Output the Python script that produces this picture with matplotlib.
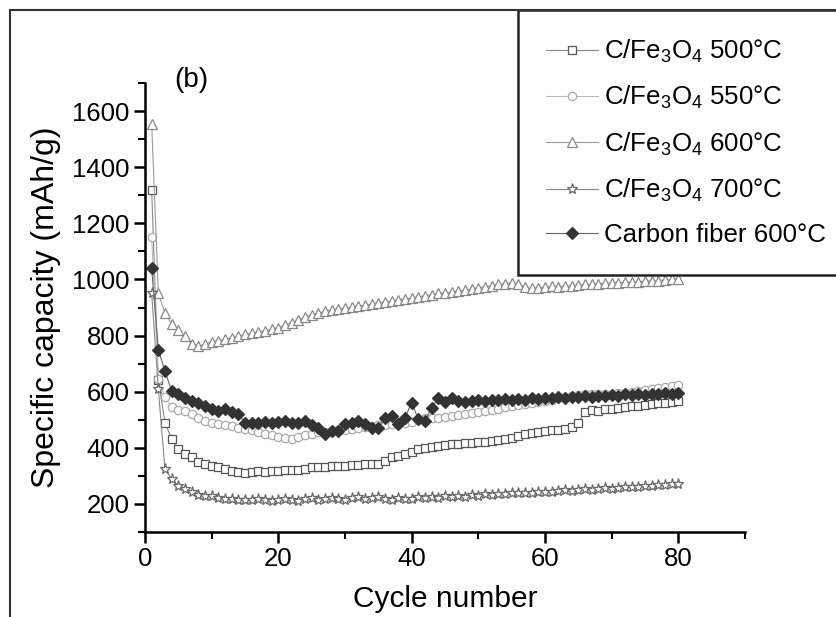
import matplotlib
matplotlib.use('Agg')
import matplotlib.pyplot as plt
from matplotlib.patches import Rectangle
from matplotlib.ticker import MultipleLocator

plt.rcParams['font.family'] = ['Liberation Sans', 'DejaVu Sans']
plt.rcParams['mathtext.fontset'] = 'custom'
plt.rcParams['mathtext.rm'] = 'Liberation Sans'
plt.rcParams['mathtext.it'] = 'Liberation Sans'

cycles = list(range(1, 81))

cap_500 = [1320, 640, 490, 431, 395, 378, 366, 348, 342, 336,
           330, 324, 318, 314, 312, 314, 316, 315, 318, 318,
           320, 322, 322, 326, 330, 332, 333, 334, 335, 336,
           338, 340, 341, 342, 344, 352, 366, 372, 378, 386,
           395, 398, 402, 407, 410, 412, 414, 416, 418, 420,
           422, 424, 428, 432, 436, 442, 448, 452, 456, 460,
           462, 465, 468, 474, 490, 528, 534, 530, 538, 540,
           542, 545, 548, 550, 552, 555, 558, 560, 564, 568]

cap_550 = [1150, 645, 580, 545, 535, 530, 522, 508, 495, 488,
           484, 480, 476, 472, 468, 462, 456, 450, 445, 440,
           436, 432, 438, 445, 450, 455, 458, 460, 462, 465,
           468, 470, 474, 478, 480, 482, 484, 486, 488, 492,
           500, 505, 506, 508, 510, 512, 516, 520, 524, 528,
           532, 536, 540, 545, 548, 551, 556, 560, 564, 568,
           572, 576, 580, 584, 588, 590, 592, 592, 592, 593,
           594, 597, 600, 604, 607, 610, 614, 617, 620, 624]

cap_600 = [1555, 950, 880, 840, 820, 798, 770, 762, 770, 778,
           782, 788, 792, 798, 804, 808, 812, 818, 822, 828,
           836, 845, 855, 866, 875, 880, 886, 892, 895, 898,
           902, 905, 908, 912, 916, 920, 924, 928, 931, 934,
           938, 942, 946, 950, 952, 955, 958, 962, 966, 970,
           974, 978, 982, 985, 988, 984, 972, 968, 970, 972,
           975, 974, 976, 978, 980, 982, 983, 985, 986, 988,
           989, 990, 991, 992, 994, 995, 996, 998, 1000, 1003]

cap_700 = [950, 608, 324, 289, 265, 253, 241, 232, 230, 228,
           222, 218, 216, 214, 215, 213, 216, 214, 212, 215,
           218, 214, 212, 216, 220, 214, 218, 222, 216, 214,
           220, 224, 218, 222, 226, 218, 214, 220, 216, 218,
           224, 220, 226, 222, 228, 224, 230, 226, 232, 230,
           234, 232, 236, 234, 238, 238, 240, 238, 242, 244,
           242, 246, 248, 246, 250, 252, 250, 254, 256, 255,
           258, 260, 259, 262, 264, 263, 266, 268, 270, 272]

cap_cf = [1040, 750, 673, 602, 590, 579, 567, 559, 549, 537,
          531, 537, 528, 520, 490, 490, 490, 493, 490, 493,
          496, 490, 488, 496, 480, 472, 449, 460, 460, 484,
          490, 496, 484, 472, 472, 508, 514, 484, 508, 561,
          502, 496, 543, 579, 562, 578, 568, 565, 568, 570,
          566, 572, 570, 574, 572, 575, 570, 576, 574, 578,
          576, 580, 576, 582, 580, 584, 580, 586, 584, 588,
          585, 590, 587, 591, 589, 592, 590, 594, 592, 596]

labels = ['C/Fe$_3$O$_4$ 500°C', 'C/Fe$_3$O$_4$ 550°C', 'C/Fe$_3$O$_4$ 600°C',
          'C/Fe$_3$O$_4$ 700°C', 'Carbon fiber 600°C']

W, H = 837, 617
fig = plt.figure(figsize=(W / 100, H / 100), dpi=100)
ax = fig.add_axes([145 / W, 1 - 532 / H, 600 / W, 449 / H])

styles = [
    dict(marker='s', mfc='white', mec='#555555', color='#888888', ms=6),
    dict(marker='o', mfc='white', mec='#aaaaaa', color='#bbbbbb', ms=6),
    dict(marker='^', mfc='white', mec='#888888', color='#999999', ms=7),
    dict(marker='*', mfc='white', mec='#666666', color='#888888', ms=8),
    dict(marker='D', mfc='#333333', mec='#333333', color='#666666', ms=6),
]
series = [cap_500, cap_550, cap_600, cap_700, cap_cf]
for vals, lab, st in zip(series, labels, styles):
    ax.plot(cycles, vals, lw=0.8, mew=0.9, label=lab, **st)

ax.set_xlim(0, 90)
ax.set_ylim(100, 1700)
ax.xaxis.set_major_locator(MultipleLocator(20))
ax.xaxis.set_minor_locator(MultipleLocator(10))
ax.yaxis.set_minor_locator(MultipleLocator(100))
ax.set_yticks(range(200, 1601, 200))

for side in ['top', 'right']:
    ax.spines[side].set_visible(False)
for side in ['left', 'bottom']:
    ax.spines[side].set_linewidth(1.8)
ax.tick_params(which='major', direction='out', length=8, width=1.8, labelsize=18.5, pad=3)
ax.tick_params(which='minor', direction='out', length=5, width=1.5)

ax.set_xlabel('Cycle number', fontsize=21.5, labelpad=10)
ax.set_ylabel('Specific capacity (mAh/g)', fontsize=23, labelpad=8)

fig.text(174 / W, 1 - 80 / H, '(b)', fontsize=20, va='center', ha='left')

leg = ax.legend(loc='upper left', bbox_to_anchor=(518 / W, 1 - 10 / H),
                bbox_transform=fig.transFigure, borderaxespad=0, fontsize=18.6,
                handlelength=2.0, handletextpad=0.25, labelspacing=0.74,
                borderpad=1.08, fancybox=False, framealpha=1, edgecolor='#222222')
leg.get_frame().set_linewidth(1.8)

fig.add_artist(Rectangle((10 / W, -0.1), 1.0, 1 - 10 / H + 0.1, transform=fig.transFigure,
                         fill=False, lw=1.5, edgecolor='#333333'))

fig.savefig('out.png', dpi=100)
